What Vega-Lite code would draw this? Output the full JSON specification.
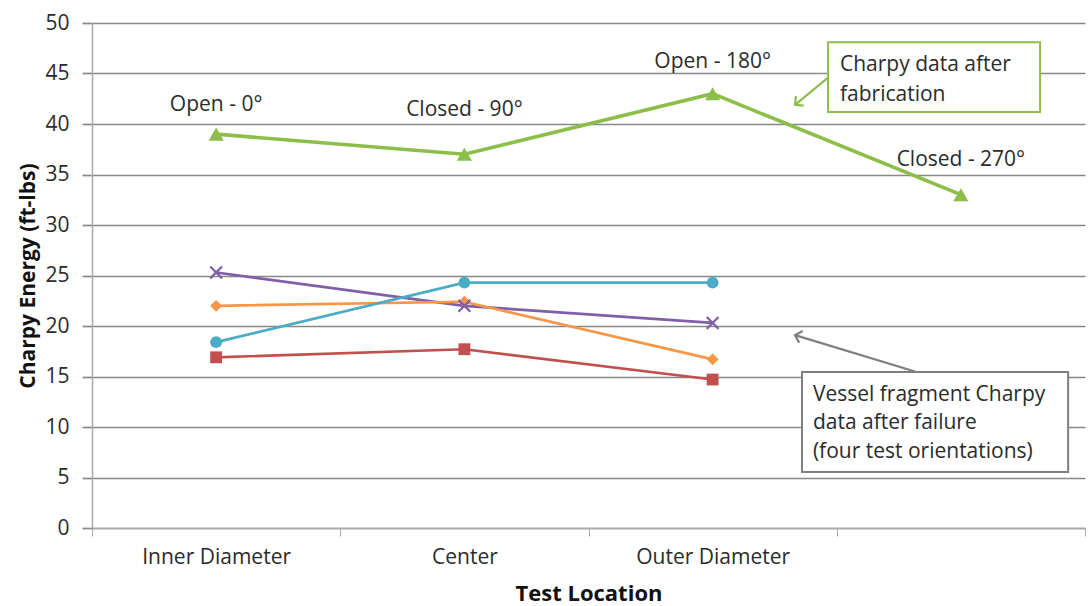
{
  "$schema": "https://vega.github.io/schema/vega-lite/v6.json",
  "width": 993,
  "height": 505,
  "autosize": {"type": "none"},
  "padding": {"left": 92, "top": 23, "right": 6, "bottom": 78},
  "background": "white",
  "config": {
    "font": "Open Sans",
    "view": {"stroke": null}
  },
  "datasets": {
    "series": [
      {"series": "Fabrication", "location": "Inner Diameter", "value": 39},
      {"series": "Fabrication", "location": "Center", "value": 37},
      {"series": "Fabrication", "location": "Outer Diameter", "value": 43},
      {"series": "Fabrication", "location": "blank", "value": 33},
      {"series": "Orientation A", "location": "Inner Diameter", "value": 25.3},
      {"series": "Orientation A", "location": "Center", "value": 22.0},
      {"series": "Orientation A", "location": "Outer Diameter", "value": 20.3},
      {"series": "Orientation B", "location": "Inner Diameter", "value": 22.0},
      {"series": "Orientation B", "location": "Center", "value": 22.4},
      {"series": "Orientation B", "location": "Outer Diameter", "value": 16.7},
      {"series": "Orientation C", "location": "Inner Diameter", "value": 18.4},
      {"series": "Orientation C", "location": "Center", "value": 24.3},
      {"series": "Orientation C", "location": "Outer Diameter", "value": 24.3},
      {"series": "Orientation D", "location": "Inner Diameter", "value": 16.9},
      {"series": "Orientation D", "location": "Center", "value": 17.7},
      {"series": "Orientation D", "location": "Outer Diameter", "value": 14.7}
    ],
    "pointLabels": [
      {"location": "Inner Diameter", "value": 41.9, "label": "Open - 0°"},
      {"location": "Center", "value": 41.4, "label": "Closed - 90°"},
      {"location": "Outer Diameter", "value": 46.1, "label": "Open - 180°"},
      {"location": "blank", "value": 36.4, "label": "Closed - 270°"}
    ],
    "boxes": [
      {"box": "fab", "u1": 2.965, "u2": 3.819, "v1": 41.2, "v2": 48.1},
      {"box": "vessel", "u1": 2.86, "u2": 3.932, "v1": 5.54, "v2": 15.45}
    ],
    "boxText": [
      {"box": "fab", "u": 3.013, "v": 45.8, "text": "Charpy data after"},
      {"box": "fab", "u": 3.013, "v": 42.9, "text": "fabrication"},
      {"box": "vessel", "u": 2.904, "v": 13.17, "text": "Vessel fragment Charpy"},
      {"box": "vessel", "u": 2.904, "v": 10.4, "text": "data after failure"},
      {"box": "vessel", "u": 2.904, "v": 7.5, "text": "(four test orientations)"}
    ],
    "arrows": [
      {"box": "fab", "u1": 2.965, "v1": 44.6, "u2": 2.832, "v2": 41.9, "angle": 230.7},
      {"box": "vessel", "u1": 3.315, "v1": 15.5, "u2": 2.832, "v2": 19.1, "angle": 286.7}
    ]
  },
  "resolve": {"scale": {"x": "independent"}},
  "layer": [
    {
      "layer": [
        {
          "data": {"name": "series"},
          "mark": {"type": "line"},
          "encoding": {
            "x": {
              "field": "location", "type": "ordinal",
              "scale": {"type": "band", "domain": ["Inner Diameter", "Center", "Outer Diameter", "blank"], "paddingInner": 0, "paddingOuter": 0},
              "axis": {
                "title": "Test Location",
                "labelExpr": "datum.value == 'blank' ? '' : datum.value",
                "labelAngle": 0,
                "tickBand": "extent",
                "tickSize": 8,
                "tickColor": "#aaaaaa",
                "domainColor": "#aaaaaa",
                "domainWidth": 1.5,
                "labelFontSize": 21,
                "labelColor": "#2b2b2b",
                "labelPadding": 10,
                "titleFontSize": 22,
                "titleFontWeight": "bold",
                "titleColor": "#111111",
                "titlePadding": 16,
                "grid": false
              }
            },
            "y": {
              "field": "value", "type": "quantitative",
              "scale": {"domain": [0, 50], "nice": false},
              "axis": {
                "title": "Charpy Energy (ft-lbs)",
                "values": [0, 5, 10, 15, 20, 25, 30, 35, 40, 45, 50],
                "grid": true,
                "gridColor": "#888888",
                "gridWidth": 1.7,
                "tickSize": 10,
                "tickColor": "#888888",
                "tickWidth": 1.7,
                "domainColor": "#aaaaaa",
                "domainWidth": 1.5,
                "labelFontSize": 21,
                "labelColor": "#2b2b2b",
                "labelPadding": 13,
                "titleFontSize": 21,
                "titleFontWeight": "bold",
                "titleColor": "#111111",
                "titlePadding": 6
              }
            },
            "color": {
              "field": "series", "type": "nominal",
              "scale": {"domain": ["Fabrication", "Orientation A", "Orientation B", "Orientation C", "Orientation D"], "range": ["#8dbe4a", "#7f5fa8", "#f79646", "#4bacc6", "#c0504d"]},
              "legend": null
            },
            "strokeWidth": {
              "condition": {"test": "datum.series == 'Fabrication'", "value": 3.6},
              "value": 2.7
            }
          }
        },
        {
          "data": {"name": "series"},
          "transform": [{"filter": "datum.series != 'Orientation A'"}],
          "mark": {"type": "point", "filled": true, "opacity": 1},
          "encoding": {
            "x": {"field": "location", "type": "ordinal"},
            "y": {"field": "value", "type": "quantitative"},
            "color": {"field": "series", "type": "nominal", "legend": null},
            "shape": {
              "field": "series", "type": "nominal",
              "scale": {"domain": ["Fabrication", "Orientation B", "Orientation C", "Orientation D"], "range": ["triangle-up", "diamond", "circle", "square"]},
              "legend": null
            },
            "size": {
              "condition": {"test": "datum.series == 'Fabrication'", "value": 230},
              "value": 140
            }
          }
        },
        {
          "data": {"name": "series"},
          "transform": [{"filter": "datum.series == 'Orientation A'"}],
          "mark": {"type": "point", "filled": false, "shape": "M-1,-1L1,1M-1,1L1,-1", "size": 140, "strokeWidth": 2.2, "opacity": 1},
          "encoding": {
            "x": {"field": "location", "type": "ordinal"},
            "y": {"field": "value", "type": "quantitative"},
            "color": {"field": "series", "type": "nominal", "legend": null}
          }
        },
        {
          "data": {"name": "pointLabels"},
          "mark": {"type": "text", "fontSize": 21, "color": "#2b2b2b", "align": "center", "baseline": "middle"},
          "encoding": {
            "x": {"field": "location", "type": "ordinal"},
            "y": {"field": "value", "type": "quantitative"},
            "text": {"field": "label"}
          }
        }
      ]
    },
    {
      "layer": [
        {
          "data": {"name": "arrows"},
          "mark": {"type": "rule", "strokeWidth": 2.2},
          "encoding": {
            "x": {"field": "u1", "type": "quantitative", "scale": {"domain": [0, 4], "nice": false, "zero": false}, "axis": null},
            "x2": {"field": "u2"},
            "y": {"field": "v1", "type": "quantitative"},
            "y2": {"field": "v2"},
            "stroke": {"field": "box", "type": "nominal", "scale": {"domain": ["fab", "vessel"], "range": ["#8dbe4a", "#7f7f7f"]}, "legend": null}
          }
        },
        {
          "data": {"name": "arrows"},
          "mark": {"type": "point", "shape": "M-1,1L0,0L1,1", "filled": false, "size": 150, "strokeWidth": 2.2, "opacity": 1},
          "encoding": {
            "x": {"field": "u2", "type": "quantitative"},
            "y": {"field": "v2", "type": "quantitative"},
            "angle": {"field": "angle", "type": "quantitative", "scale": null},
            "stroke": {"field": "box", "type": "nominal", "legend": null}
          }
        },
        {
          "data": {"name": "boxes"},
          "mark": {"type": "rect", "fill": "white", "strokeWidth": 2},
          "encoding": {
            "x": {"field": "u1", "type": "quantitative"},
            "x2": {"field": "u2"},
            "y": {"field": "v1", "type": "quantitative"},
            "y2": {"field": "v2"},
            "stroke": {"field": "box", "type": "nominal", "legend": null}
          }
        },
        {
          "data": {"name": "boxText"},
          "mark": {"type": "text", "fontSize": 21, "color": "#2b2b2b", "align": "left", "baseline": "middle"},
          "encoding": {
            "x": {"field": "u", "type": "quantitative"},
            "y": {"field": "v", "type": "quantitative"},
            "text": {"field": "text"}
          }
        }
      ]
    }
  ]
}
